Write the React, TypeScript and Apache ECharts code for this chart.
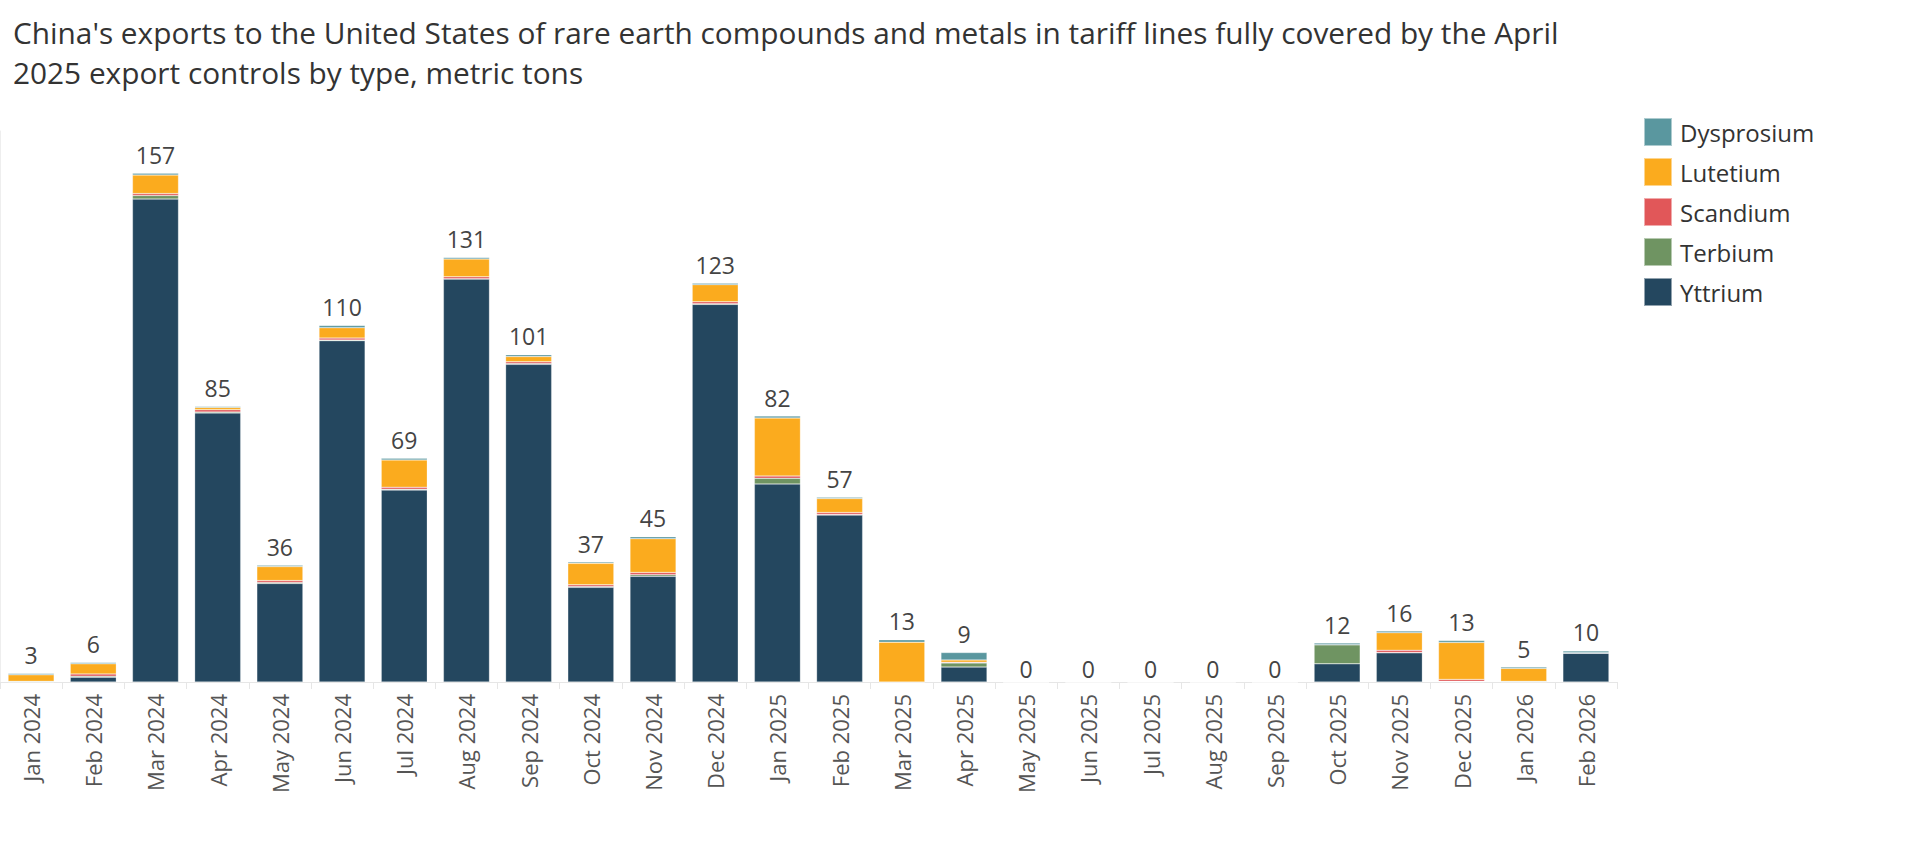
import React, { useEffect, useRef } from "react";
import * as echarts from "echarts";

const months = [
  "Jan 2024", "Feb 2024", "Mar 2024", "Apr 2024", "May 2024", "Jun 2024",
  "Jul 2024", "Aug 2024", "Sep 2024", "Oct 2024", "Nov 2024", "Dec 2024",
  "Jan 2025", "Feb 2025", "Mar 2025", "Apr 2025", "May 2025", "Jun 2025",
  "Jul 2025", "Aug 2025", "Sep 2025", "Oct 2025", "Nov 2025", "Dec 2025",
  "Jan 2026", "Feb 2026",
];

const yttrium = [0, 1.5, 149, 83, 30.4, 105.3, 59.2, 124.3, 98, 29.2, 32.6, 116.5, 61.1, 51.5, 0, 4.6, 0, 0, 0, 0, 0, 5.6, 9.0, 0.1, 0, 8.9];
const terbium = [0.2, 0.3, 1.1, 0.3, 0.3, 0.2, 0.3, 0.1, 0.3, 0.3, 0.5, 0.2, 1.75, 0.2, 0, 1.3, 0, 0, 0, 0, 0, 5.9, 0.1, 0.1, 0.2, 0.1];
const scandium = [0, 0.7, 0.6, 0.7, 0.6, 0.6, 0.6, 0.6, 0.5, 0.5, 0.7, 0.6, 0.7, 0.6, 0, 0.2, 0, 0, 0, 0, 0, 0, 0.7, 0.6, 0, 0];
const lutetium = [2.0, 3.1, 5.7, 0.7, 4.3, 3.2, 8.4, 5.5, 1.6, 6.6, 10.4, 5.3, 17.9, 4.3, 12.3, 0.7, 0, 0, 0, 0, 0, 0, 5.4, 11.4, 4.0, 0];
const dysprosium = [0.4, 0.4, 0.6, 0.3, 0.4, 0.7, 0.5, 0.5, 0.6, 0.4, 0.6, 0.4, 0.6, 0.4, 0.7, 2.3, 0, 0, 0, 0, 0, 0.5, 0.5, 0.6, 0.4, 0.6];

const seriesDefs = [
  { name: "Yttrium", data: yttrium, color: "#24475f" },
  { name: "Terbium", data: terbium, color: "#6f9462" },
  { name: "Scandium", data: scandium, color: "#e15759" },
  { name: "Lutetium", data: lutetium, color: "#fbab1e" },
  { name: "Dysprosium", data: dysprosium, color: "#5a979f" },
];

const legendOrder = ["Dysprosium", "Lutetium", "Scandium", "Terbium", "Yttrium"];

const FONT = "'Open Sans', 'Noto Sans', sans-serif";

export default function App() {
  const ref = useRef<HTMLDivElement>(null);

  useEffect(() => {
    if (!ref.current) return;
    const chart = echarts.init(ref.current, undefined, { renderer: "svg" });
    const totals = months.map((_, i) =>
      seriesDefs.reduce((s, d) => s + d.data[i], 0)
    );

    const series: any[] = seriesDefs.map((d) => ({
      name: d.name,
      type: "bar",
      stack: "total",
      data: d.data,
      barCategoryGap: "26%",
      itemStyle: { color: d.color, borderColor: "rgba(255,255,255,0.5)", borderWidth: 0.5 },
      emphasis: { disabled: true },
    }));
    series.push({
      name: "Total",
      type: "bar",
      stack: "total",
      data: totals.map((t) =>
        t === 0 ? { value: 0, label: { distance: 2 } } : { value: 0 }
      ),
      itemStyle: { color: "transparent" },
      label: {
        show: true,
        position: "top",
        distance: 7,
        formatter: (p: any) => String(Math.round(totals[p.dataIndex])),
        fontFamily: FONT,
        fontSize: 23,
        color: "#444",
      },
      emphasis: { disabled: true },
    });

    chart.setOption({
      animation: false,
      backgroundColor: "#ffffff",
      title: {
        text:
          "China's exports to the United States of rare earth compounds and metals in tariff lines fully covered by the April\n2025 export controls by type, metric tons",
        left: 8,
        top: 7,
        textStyle: {
          fontFamily: FONT,
          fontSize: 29.8,
          fontWeight: "normal",
          color: "#333",
          lineHeight: 40,
        },
      },
      legend: {
        data: legendOrder,
        orient: "vertical",
        left: 1638,
        top: 112,
        icon: "rect",
        itemWidth: 28,
        itemHeight: 28,
        itemGap: 10,
        textStyle: {
          fontFamily: FONT,
          fontSize: 24,
          color: "#333",
          padding: [0, 0, 0, 3],
        },
      },
      grid: { left: 0, right: 303, top: 131, bottom: 159, containLabel: false },
      xAxis: {
        type: "category",
        data: months,
        axisLine: { lineStyle: { color: "#e6e6e6", width: 1 } },
        axisTick: { show: true, length: 7, lineStyle: { color: "#e6e6e6" } },
        axisLabel: {
          rotate: 90,
          margin: 12,
          fontFamily: FONT,
          fontSize: 22,
          color: "#555",
        },
      },
      yAxis: {
        type: "value",
        min: 0,
        max: 170,
        axisLabel: { show: false },
        splitLine: { show: false },
        axisTick: { show: false },
        axisLine: { show: true, lineStyle: { color: "#eeeeee" } },
      },
      series,
    });

    return () => chart.dispose();
  }, []);

  return (
    <div
      ref={ref}
      style={{ position: "fixed", left: 0, top: 0, width: 1920, height: 841 }}
    />
  );
}
